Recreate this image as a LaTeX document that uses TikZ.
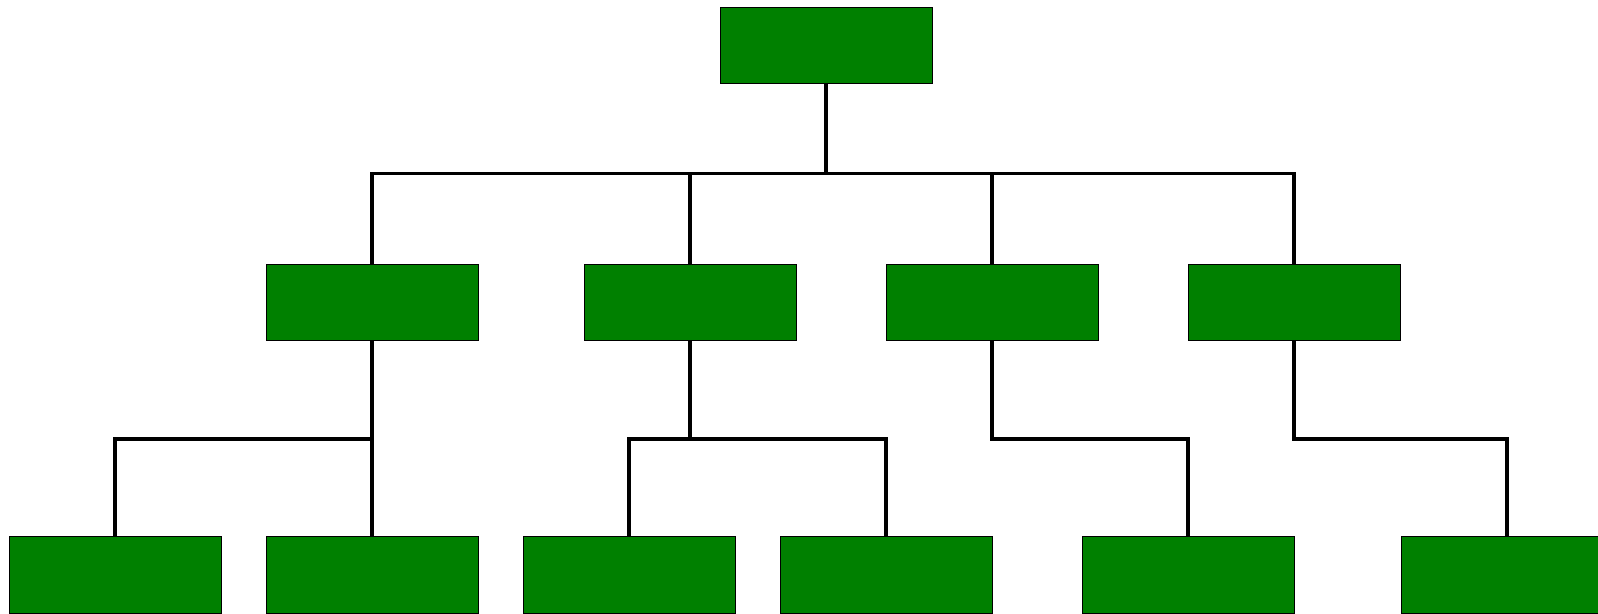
\documentclass[tikz,border=0pt]{standalone}
\definecolor{boxgreen}{RGB}{0,128,0}
\begin{document}
\begin{tikzpicture}[x=1pt,y=1pt,
  box/.style={draw=black,fill=boxgreen,line width=1pt,minimum width=212pt,minimum height=76pt,inner sep=0pt,outer sep=0pt},
  conn/.style={draw=black,line width=3.5pt}]
\useasboundingbox (0,0) rectangle (1598,613);
\clip (0,0) rectangle (1598,613);
\node[box] (root) at (826,567) {};
\node[box] (a) at (372,310) {};
\node[box] (b) at (690,310) {};
\node[box] (c) at (992,310) {};
\node[box] (d) at (1294,310) {};
\node[box] (a1) at (115,38) {};
\node[box] (a2) at (372,38) {};
\node[box] (b1) at (629,38) {};
\node[box] (b2) at (886,38) {};
\node[box] (c1) at (1188,38) {};
\node[box] (d1) at (1507,38) {};
\coordinate (bus1) at (826,439.5);
\coordinate (bus2) at (0,174);
\draw[conn] (root.south) -- (bus1);
\draw[conn] (bus1) -| (a.north);
\draw[conn] (bus1) -| (b.north);
\draw[conn] (bus1) -| (c.north);
\draw[conn] (bus1) -| (d.north);
\draw[conn] (a.south) -- (a.south |- bus2) -| (a1.north);
\draw[conn] (a.south |- bus2) -- (a2.north);
\draw[conn] (b.south) -- (b.south |- bus2) -| (b1.north);
\draw[conn] (b.south |- bus2) -| (b2.north);
\draw[conn] (c.south) -- (c.south |- bus2) -| (c1.north);
\draw[conn] (d.south) -- (d.south |- bus2) -| (d1.north);
\end{tikzpicture}
\end{document}
